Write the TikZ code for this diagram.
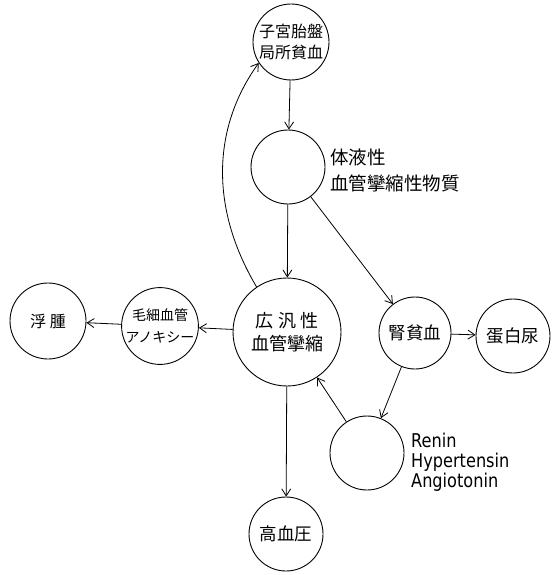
\documentclass[tikz,border=0pt]{standalone}
\usepackage{fontspec}
\setmainfont{Noto Sans CJK JP}
\newfontfamily\latfont[FakeStretch=0.85]{DejaVu Sans}
\usetikzlibrary{arrows.meta}
\begin{document}
\begin{tikzpicture}[x=1pt,y=-1pt,
  circ/.style={draw,circle,line width=0.9pt,inner sep=0pt,align=center,
    font=\fontsize{16}{21}\selectfont},
  lbl/.style={align=left,inner sep=0pt,font=\fontsize{18.5}{26}\selectfont},
  arr/.style={line width=0.8pt,-{Straight Barb[length=7pt,width=9pt]}}]
\useasboundingbox (0,0) rectangle (558,575);
\node[circ,minimum size=76pt] (top) at (291,42) {子宮胎盤\\局所貧血};
\node[circ,minimum size=74pt] (hum) at (288,167) {};
\node[circ,minimum size=108pt,font=\fontsize{18}{23}\selectfont] (mid) at (287,332) {広 汎 性\\血管攣縮};
\node[circ,minimum size=72pt,font=\fontsize{17.5}{21}\selectfont] (ren) at (415,333) {腎貧血};
\node[circ,minimum size=74pt,font=\fontsize{17.5}{21}\selectfont] (prot) at (513,336) {蛋白尿};
\node[circ,minimum size=74pt] (rn) at (367,453) {};
\node[circ,minimum size=74pt,font=\fontsize{17.5}{21}\selectfont] (hbp) at (286,534) {高血圧};
\node[circ,minimum size=76pt] (ede) at (48,321) {浮 腫};
\node[circ,minimum size=74pt,font=\fontsize{14}{22}\selectfont] (cap) at (160,326) {毛細血管\\アノキシー};
\node[lbl,anchor=west] (humlbl) at (330,170) {体液性\\血管攣縮性物質};
\node[align=left,inner sep=0pt,anchor=west,font=\latfont\fontsize{19}{20}\selectfont] (rnlbl) at (411,462) {Renin\\Hypertensin\\Angiotonin};
\draw[arr] (top) -- (hum);
\draw[arr] (hum) -- (mid);
\draw[arr] (mid) -- (hbp);
\draw[arr] (mid) -- (cap);
\draw[arr] (cap) -- (ede);
\draw[arr] (hum) -- (ren);
\draw[arr] (ren) -- (prot);
\draw[arr] (ren) -- (rn);
\draw[arr] (rn) -- (mid);
\draw[arr] (mid.124) .. controls (208,205) and (214,125) .. (top.213);
\end{tikzpicture}
\end{document}
